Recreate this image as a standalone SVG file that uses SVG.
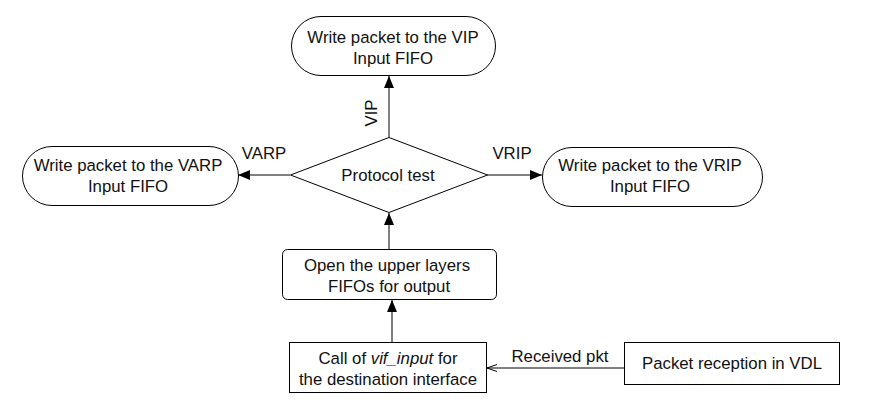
<svg xmlns="http://www.w3.org/2000/svg" width="869" height="411" viewBox="0 0 869 411">
<defs>
<style>
text{font-family:"Liberation Sans",Arial,sans-serif;font-size:16.8px;fill:#111;text-anchor:middle}
.n{fill:#fff;stroke:#000;stroke-width:1}
.c{fill:none;stroke:#000;stroke-width:1}
</style>
<marker id="af" viewBox="0 0 12 10" refX="12" refY="5" markerWidth="12" markerHeight="10" markerUnits="userSpaceOnUse" orient="auto">
<path d="M0,0L12,5L0,10z" fill="#000"/>
</marker>
<marker id="ao" viewBox="0 0 10 10" refX="10" refY="5" markerWidth="10" markerHeight="10" markerUnits="userSpaceOnUse" orient="auto">
<path d="M0,1.5L10,5L0,8.5" fill="none" stroke="#000" stroke-width="1"/>
</marker>
</defs>
<rect width="869" height="411" fill="#fff"/>
<g id="connectors">
<line class="c" x1="389" y1="137" x2="389" y2="76" marker-end="url(#af)"/>
<line class="c" x1="290" y1="175" x2="238" y2="175" marker-end="url(#af)"/>
<line class="c" x1="487" y1="175" x2="542" y2="175" marker-end="url(#af)"/>
<line class="c" x1="389" y1="249" x2="389" y2="213" marker-end="url(#af)"/>
<line class="c" x1="392" y1="342" x2="392" y2="300" marker-end="url(#af)"/>
<line class="c" x1="624" y1="368" x2="487" y2="368" marker-end="url(#ao)"/>
<text x="371" y="113" transform="rotate(-90 371 113)" dy="6">VIP</text>
<text x="264" y="159">VARP</text>
<text x="512" y="159">VRIP</text>
<text x="560" y="362">Received pkt</text>
</g>
<g id="vip">
<rect class="n" x="291.5" y="16.5" width="204" height="59" rx="29.5"/>
<text x="393" y="43">Write packet to the VIP</text>
<text x="393" y="64">Input FIFO</text>
</g>
<g id="varp">
<rect class="n" x="22.5" y="146.5" width="216" height="59" rx="29.5"/>
<text x="128" y="171">Write packet to the VARP</text>
<text x="128" y="192">Input FIFO</text>
</g>
<g id="vrip">
<rect class="n" x="542.5" y="147.5" width="220" height="59" rx="29.5"/>
<text x="650" y="171">Write packet to the VRIP</text>
<text x="650" y="192">Input FIFO</text>
</g>
<g id="test">
<polygon class="n" points="389,137.5 487.5,175 389,212.5 290.5,175"/>
<text x="388" y="181">Protocol test</text>
</g>
<g id="open">
<rect class="n" x="282.5" y="249.5" width="214" height="50" rx="5"/>
<text x="387" y="271">Open the upper layers</text>
<text x="389" y="292">FIFOs for output</text>
</g>
<g id="call">
<rect class="n" x="289.5" y="342.5" width="197" height="50"/>
<text x="388" y="364">Call of <tspan font-style="italic">vif_input</tspan> for</text>
<text x="388" y="385">the destination interface</text>
</g>
<g id="reception">
<rect class="n" x="624.5" y="342.5" width="215" height="42"/>
<text x="732" y="369">Packet reception in VDL</text>
</g>
</svg>
